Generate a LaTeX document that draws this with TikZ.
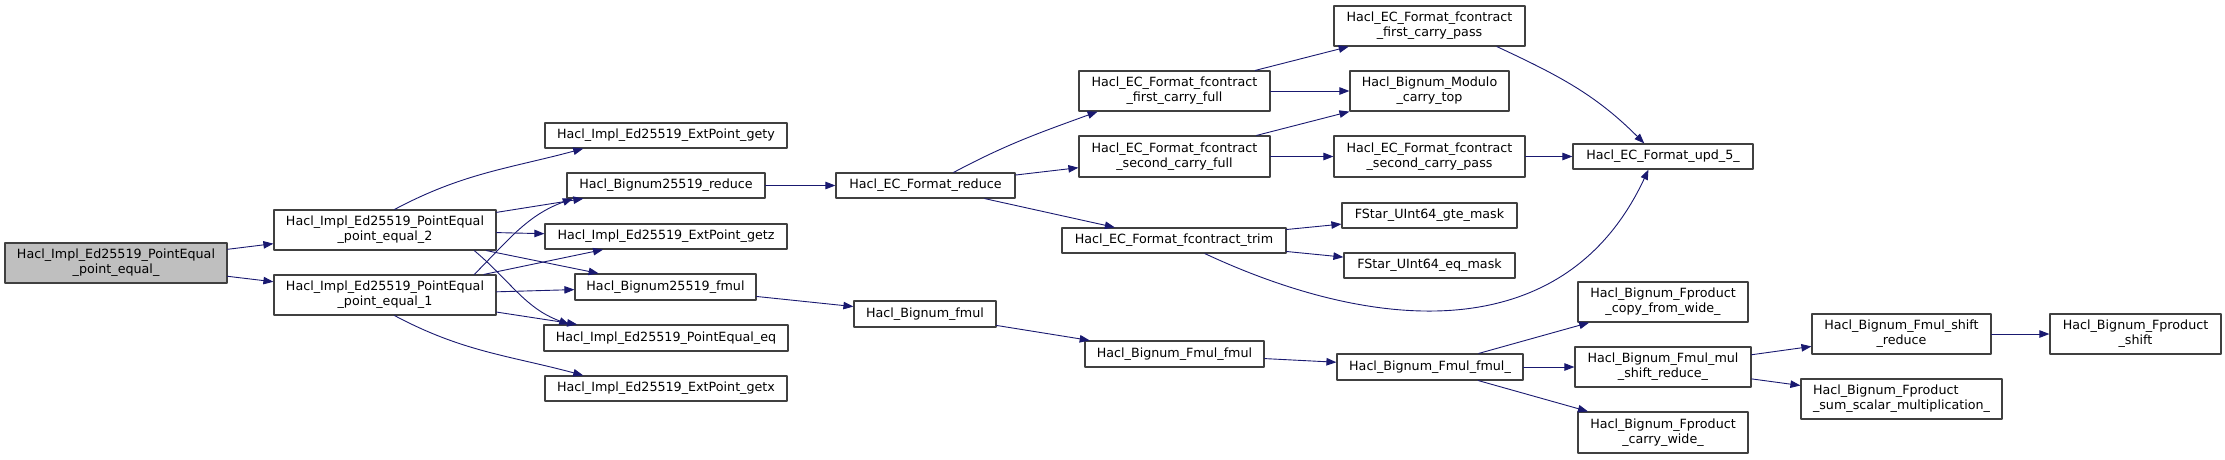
\documentclass[tikz,border=0pt]{standalone}
\usepackage{fontspec}
\setmainfont{DejaVu Sans}
\usepackage{tikz}
\usetikzlibrary{arrows.meta}

\begin{document}
\begin{tikzpicture}[x=1pt, y=1pt, line cap=round, line join=round,
    fn/.style={draw=black!75, line width=1.2pt, fill=white, inner sep=0pt, align=center,
        font=\fontsize{12.7}{15}\selectfont},
    call/.style={draw={rgb,255:red,25;green,25;blue,112}, line width=0.9pt,
        -{Triangle[length=10pt, width=7.5pt]}}]
    \useasboundingbox (0,0) rectangle (2225,-459);

    % --- 1. Root and its two callers ---
    \node[fn, fill=black!25, minimum width=222pt, minimum height=40pt] (root) at (116,-263) {Hacl\_Impl\_Ed25519\_PointEqual\\\_point\_equal\_};
    \node[fn, minimum width=222pt, minimum height=40pt] (pe2) at (385,-230) {Hacl\_Impl\_Ed25519\_PointEqual\\\_point\_equal\_2};
    \node[fn, minimum width=222pt, minimum height=40pt] (pe1) at (385,-295) {Hacl\_Impl\_Ed25519\_PointEqual\\\_point\_equal\_1};

    % --- 2. Point accessors and field ops ---
    \node[fn, minimum width=242pt, minimum height=25pt] (gety) at (666,-135.5) {Hacl\_Impl\_Ed25519\_ExtPoint\_gety};
    \node[fn, minimum width=198pt, minimum height=25pt] (breduce) at (666,-185.5) {Hacl\_Bignum25519\_reduce};
    \node[fn, minimum width=242pt, minimum height=25pt] (getz) at (666,-236.5) {Hacl\_Impl\_Ed25519\_ExtPoint\_getz};
    \node[fn, minimum width=181pt, minimum height=26pt] (bfmul) at (665.5,-287) {Hacl\_Bignum25519\_fmul};
    \node[fn, minimum width=244pt, minimum height=26pt] (eq) at (666,-338) {Hacl\_Impl\_Ed25519\_PointEqual\_eq};
    \node[fn, minimum width=242pt, minimum height=25pt] (getx) at (666,-388.5) {Hacl\_Impl\_Ed25519\_ExtPoint\_getx};

    % --- 3. Format reduce and bignum fmul ---
    \node[fn, minimum width=179pt, minimum height=25pt] (ecreduce) at (925.5,-185.5) {Hacl\_EC\_Format\_reduce};
    \node[fn, minimum width=142pt, minimum height=26pt] (bnfmul) at (925,-314) {Hacl\_Bignum\_fmul};

    \node[fn, minimum width=191pt, minimum height=40pt] (fcf) at (1174.5,-91) {Hacl\_EC\_Format\_fcontract\\\_first\_carry\_full};
    \node[fn, minimum width=191pt, minimum height=41pt] (scf) at (1174.5,-156.5) {Hacl\_EC\_Format\_fcontract\\\_second\_carry\_full};
    \node[fn, minimum width=224pt, minimum height=25pt] (trim) at (1174,-240.5) {Hacl\_EC\_Format\_fcontract\_trim};
    \node[fn, minimum width=179pt, minimum height=26pt] (fmulfmul) at (1174.5,-354) {Hacl\_Bignum\_Fmul\_fmul};

    \node[fn, minimum width=191pt, minimum height=40pt] (fcp) at (1429.5,-26) {Hacl\_EC\_Format\_fcontract\\\_first\_carry\_pass};
    \node[fn, minimum width=159pt, minimum height=40pt] (modulo) at (1429.5,-91) {Hacl\_Bignum\_Modulo\\\_carry\_top};
    \node[fn, minimum width=191pt, minimum height=41pt] (scp) at (1429.5,-156.5) {Hacl\_EC\_Format\_fcontract\\\_second\_carry\_pass};
    \node[fn, minimum width=175pt, minimum height=25pt] (gte) at (1429.5,-215.5) {FStar\_UInt64\_gte\_mask};
    \node[fn, minimum width=171pt, minimum height=25pt] (eqmask) at (1429.5,-265.5) {FStar\_UInt64\_eq\_mask};
    \node[fn, minimum width=186pt, minimum height=26pt] (fmuli) at (1430,-367) {Hacl\_Bignum\_Fmul\_fmul\_};

    % --- 4. Last columns ---
    \node[fn, minimum width=180pt, minimum height=25pt] (upd) at (1663,-156.5) {Hacl\_EC\_Format\_upd\_5\_};
    \node[fn, minimum width=170pt, minimum height=40pt] (copy) at (1663,-302) {Hacl\_Bignum\_Fproduct\\\_copy\_from\_wide\_};
    \node[fn, minimum width=176pt, minimum height=40pt] (msr) at (1663,-367) {Hacl\_Bignum\_Fmul\_mul\\\_shift\_reduce\_};
    \node[fn, minimum width=170pt, minimum height=41pt] (carry) at (1663,-432.5) {Hacl\_Bignum\_Fproduct\\\_carry\_wide\_};
    \node[fn, minimum width=179pt, minimum height=40pt] (shiftred) at (1901.5,-334) {Hacl\_Bignum\_Fmul\_shift\\\_reduce};
    \node[fn, minimum width=201pt, minimum height=40pt, align=left] (sumscalar) at (1901.5,-399) {Hacl\_Bignum\_Fproduct\\\_sum\_scalar\_multiplication\_};
    \node[fn, minimum width=171pt, minimum height=40pt] (fpshift) at (2135.5,-334) {Hacl\_Bignum\_Fproduct\\\_shift};

    % --- 5. Calls ---
    \draw[call] (root) -- (pe2);
    \draw[call] (root) -- (pe1);

    \draw[call] (pe2.65) to[out=28, in=195] (gety.189);
    \draw[call] (pe2) -- (breduce);
    \draw[call] (pe2) -- (getz);
    \draw[call] (pe2) -- (bfmul);
    \draw[call] (pe2.-13) to[out=-40, in=160] (eq.172);

    \draw[call] (pe1.13) to[out=45, in=200] (breduce.188);
    \draw[call] (pe1) -- (getz);
    \draw[call] (pe1) -- (bfmul);
    \draw[call] (pe1) -- (eq);
    \draw[call] (pe1.-65) to[out=-28, in=165] (getx.171);

    \draw[call] (breduce) -- (ecreduce);
    \draw[call] (bfmul) -- (bnfmul);

    \draw[call] (ecreduce.25) to[out=28, in=200] (fcf.195);
    \draw[call] (ecreduce) -- (scf);
    \draw[call] (ecreduce) -- (trim);

    \draw[call] (fcf) -- (fcp);
    \draw[call] (fcf) -- (modulo);
    \draw[call] (scf) -- (modulo);
    \draw[call] (scf) -- (scp);
    \draw[call] (fcp.-17) to[out=-25, in=135] (upd.145);
    \draw[call] (scp) -- (upd);
    \draw[call] (trim.-23) to[out=-25, in=-115, looseness=1.1] (upd.222);
    \draw[call] (trim) -- (gte);
    \draw[call] (trim) -- (eqmask);

    \draw[call] (bnfmul) -- (fmulfmul);
    \draw[call] (fmulfmul) -- (fmuli);
    \draw[call] (fmuli) -- (copy);
    \draw[call] (fmuli) -- (msr);
    \draw[call] (fmuli) -- (carry);
    \draw[call] (msr) -- (shiftred);
    \draw[call] (msr) -- (sumscalar);
    \draw[call] (shiftred) -- (fpshift);
\end{tikzpicture}
\end{document}
